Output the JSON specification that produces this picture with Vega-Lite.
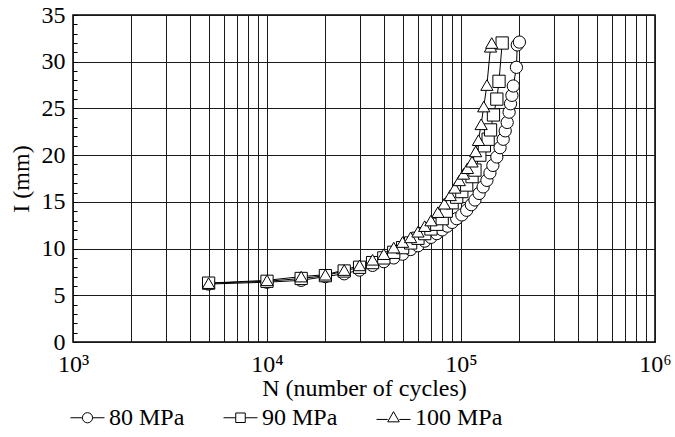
{
  "$schema": "https://vega.github.io/schema/vega-lite/v6.json",
  "width": 582,
  "height": 327,
  "autosize": {"type": "none"},
  "padding": {"left": 73, "top": 15, "right": 20, "bottom": 95},
  "background": "white",
  "config": {
    "font": "Liberation Serif",
    "axis": {"labelFont": "Liberation Serif", "titleFont": "Liberation Serif"},
    "legend": {"labelFont": "Liberation Serif"},
    "view": {"stroke": "black", "strokeWidth": 1.5}
  },
  "data": {
    "values": [
      {"s": "80 MPa", "N": 5000, "I": 6.2},
      {"s": "80 MPa", "N": 10000, "I": 6.4},
      {"s": "80 MPa", "N": 15000, "I": 6.6},
      {"s": "80 MPa", "N": 20000, "I": 7.0},
      {"s": "80 MPa", "N": 25000, "I": 7.3},
      {"s": "80 MPa", "N": 30000, "I": 7.7},
      {"s": "80 MPa", "N": 35000, "I": 8.2},
      {"s": "80 MPa", "N": 40000, "I": 8.6},
      {"s": "80 MPa", "N": 45000, "I": 9.0},
      {"s": "80 MPa", "N": 50000, "I": 9.4},
      {"s": "80 MPa", "N": 55000, "I": 9.9},
      {"s": "80 MPa", "N": 60000, "I": 10.3},
      {"s": "80 MPa", "N": 65000, "I": 10.8},
      {"s": "80 MPa", "N": 70000, "I": 11.2},
      {"s": "80 MPa", "N": 75000, "I": 11.6},
      {"s": "80 MPa", "N": 80000, "I": 12.0},
      {"s": "80 MPa", "N": 85000, "I": 12.4},
      {"s": "80 MPa", "N": 90000, "I": 12.8},
      {"s": "80 MPa", "N": 95000, "I": 13.2},
      {"s": "80 MPa", "N": 101000, "I": 13.6},
      {"s": "80 MPa", "N": 107000, "I": 14.1},
      {"s": "80 MPa", "N": 113000, "I": 14.7},
      {"s": "80 MPa", "N": 118000, "I": 15.2},
      {"s": "80 MPa", "N": 124000, "I": 15.9},
      {"s": "80 MPa", "N": 130000, "I": 16.6},
      {"s": "80 MPa", "N": 136000, "I": 17.3},
      {"s": "80 MPa", "N": 141000, "I": 18.1},
      {"s": "80 MPa", "N": 146000, "I": 18.9},
      {"s": "80 MPa", "N": 153000, "I": 19.8},
      {"s": "80 MPa", "N": 159000, "I": 20.8},
      {"s": "80 MPa", "N": 165000, "I": 21.7},
      {"s": "80 MPa", "N": 169000, "I": 22.6},
      {"s": "80 MPa", "N": 173000, "I": 23.5},
      {"s": "80 MPa", "N": 177000, "I": 24.6},
      {"s": "80 MPa", "N": 180000, "I": 25.5},
      {"s": "80 MPa", "N": 183000, "I": 26.4},
      {"s": "80 MPa", "N": 186000, "I": 27.4},
      {"s": "80 MPa", "N": 193000, "I": 29.4},
      {"s": "80 MPa", "N": 195000, "I": 31.8},
      {"s": "80 MPa", "N": 200000, "I": 32.1},
      {"s": "90 MPa", "N": 5000, "I": 6.3},
      {"s": "90 MPa", "N": 10000, "I": 6.5},
      {"s": "90 MPa", "N": 15000, "I": 6.8},
      {"s": "90 MPa", "N": 20000, "I": 7.1},
      {"s": "90 MPa", "N": 25000, "I": 7.6},
      {"s": "90 MPa", "N": 30000, "I": 8.0},
      {"s": "90 MPa", "N": 35000, "I": 8.5},
      {"s": "90 MPa", "N": 40000, "I": 9.0},
      {"s": "90 MPa", "N": 45000, "I": 9.6},
      {"s": "90 MPa", "N": 50000, "I": 10.1},
      {"s": "90 MPa", "N": 55000, "I": 10.6},
      {"s": "90 MPa", "N": 60000, "I": 11.1},
      {"s": "90 MPa", "N": 65000, "I": 11.6},
      {"s": "90 MPa", "N": 70000, "I": 12.1},
      {"s": "90 MPa", "N": 75000, "I": 12.6},
      {"s": "90 MPa", "N": 80000, "I": 13.2},
      {"s": "90 MPa", "N": 84000, "I": 14.0},
      {"s": "90 MPa", "N": 90000, "I": 14.9},
      {"s": "90 MPa", "N": 95000, "I": 15.5},
      {"s": "90 MPa", "N": 101000, "I": 16.1},
      {"s": "90 MPa", "N": 107000, "I": 16.8},
      {"s": "90 MPa", "N": 114000, "I": 17.7},
      {"s": "90 MPa", "N": 118000, "I": 18.4},
      {"s": "90 MPa", "N": 125000, "I": 20.0},
      {"s": "90 MPa", "N": 132000, "I": 21.0},
      {"s": "90 MPa", "N": 138000, "I": 21.7},
      {"s": "90 MPa", "N": 142000, "I": 22.7},
      {"s": "90 MPa", "N": 147000, "I": 24.3},
      {"s": "90 MPa", "N": 153000, "I": 26.0},
      {"s": "90 MPa", "N": 157000, "I": 27.9},
      {"s": "90 MPa", "N": 163000, "I": 32.0},
      {"s": "100 MPa", "N": 5000, "I": 6.3},
      {"s": "100 MPa", "N": 10000, "I": 6.6},
      {"s": "100 MPa", "N": 15000, "I": 7.0},
      {"s": "100 MPa", "N": 20000, "I": 7.2},
      {"s": "100 MPa", "N": 25000, "I": 7.7},
      {"s": "100 MPa", "N": 30000, "I": 8.2},
      {"s": "100 MPa", "N": 35000, "I": 8.8},
      {"s": "100 MPa", "N": 40000, "I": 9.4},
      {"s": "100 MPa", "N": 45000, "I": 10.1},
      {"s": "100 MPa", "N": 50000, "I": 10.7},
      {"s": "100 MPa", "N": 55000, "I": 11.2},
      {"s": "100 MPa", "N": 60000, "I": 11.8},
      {"s": "100 MPa", "N": 65000, "I": 12.4},
      {"s": "100 MPa", "N": 70000, "I": 13.0},
      {"s": "100 MPa", "N": 76000, "I": 13.9},
      {"s": "100 MPa", "N": 82000, "I": 14.8},
      {"s": "100 MPa", "N": 88000, "I": 15.7},
      {"s": "100 MPa", "N": 93000, "I": 16.5},
      {"s": "100 MPa", "N": 98000, "I": 17.3},
      {"s": "100 MPa", "N": 103000, "I": 18.0},
      {"s": "100 MPa", "N": 108000, "I": 18.6},
      {"s": "100 MPa", "N": 114000, "I": 19.3},
      {"s": "100 MPa", "N": 119000, "I": 20.4},
      {"s": "100 MPa", "N": 123000, "I": 21.6},
      {"s": "100 MPa", "N": 127000, "I": 23.3},
      {"s": "100 MPa", "N": 131000, "I": 25.2},
      {"s": "100 MPa", "N": 136000, "I": 27.5},
      {"s": "100 MPa", "N": 142000, "I": 31.6},
      {"s": "100 MPa", "N": 144000, "I": 32.0}
    ]
  },
  "encoding": {
    "x": {
      "field": "N",
      "type": "quantitative",
      "scale": {"type": "log", "domain": [1000, 1000000], "nice": false},
      "axis": {
        "title": "N (number of cycles)",
        "values": [1000, 2000, 3000, 4000, 5000, 6000, 7000, 8000, 9000, 10000, 20000, 30000, 40000, 50000, 60000, 70000, 80000, 90000, 100000, 200000, 300000, 400000, 500000, 600000, 700000, 800000, 900000, 1000000],
        "labelExpr": "datum.value == 1000 ? '10³' : datum.value == 10000 ? '10⁴' : datum.value == 100000 ? '10⁵' : datum.value == 1000000 ? '10⁶' : ''",
        "labelFontSize": 24,
        "labelColor": "black",
        "labelPadding": 10,
        "labelFlush": false,
        "labelOverlap": false,
        "ticks": false,
        "domain": false,
        "grid": true,
        "gridColor": "#1a1a1a",
        "gridWidth": 1,
        "gridOpacity": 1,
        "titleFontSize": 24,
        "titleFontWeight": "normal",
        "titleColor": "black",
        "titlePadding": 0
      }
    },
    "y": {
      "field": "I",
      "type": "quantitative",
      "scale": {"domain": [0, 35], "nice": false},
      "axis": {
        "title": "I (mm)",
        "values": [0, 1, 2, 3, 4, 5, 6, 7, 8, 9, 10, 11, 12, 13, 14, 15, 16, 17, 18, 19, 20, 21, 22, 23, 24, 25, 26, 27, 28, 29, 30, 31, 32, 33, 34, 35],
        "labelExpr": "datum.value % 5 === 0 ? datum.label : ''",
        "labelFontSize": 24,
        "labelColor": "black",
        "labelFlush": false,
        "labelOverlap": false,
        "labelPadding": 12,
        "tickSize": -4,
        "tickColor": "black",
        "domain": false,
        "grid": true,
        "gridColor": "#1a1a1a",
        "gridWidth": 1,
        "gridOpacity": {"condition": {"test": "datum.value % 5 === 0", "value": 1}, "value": 0},
        "titleFontSize": 24,
        "titleFontWeight": "normal",
        "titleColor": "black",
        "titlePadding": 8
      }
    }
  },
  "layer": [
    {
      "mark": {"type": "line", "color": "black", "strokeWidth": 1},
      "encoding": {"detail": {"field": "s"}, "order": {"field": "N", "type": "quantitative"}}
    },
    {
      "mark": {"type": "point", "filled": false, "fill": "white", "fillOpacity": 1, "stroke": "black", "strokeWidth": 1, "size": 150, "opacity": 1},
      "encoding": {
        "shape": {
          "field": "s",
          "type": "nominal",
          "scale": {"domain": ["80 MPa", "90 MPa", "100 MPa"], "range": ["circle", "square", "triangle-up"]},
          "legend": null
        }
      }
    },
    {
      "mark": {"type": "point", "filled": false, "stroke": "black", "strokeWidth": 1, "opacity": 0},
      "encoding": {
        "shape": {
          "field": "s",
          "type": "nominal",
          "scale": {"domain": ["80 MPa", "90 MPa", "100 MPa"], "range": [
            "M-1,0H-0.3M0.3,0H1M0.3,0A0.3,0.3,0,1,1,-0.3,0A0.3,0.3,0,1,1,0.3,0",
            "M-1,0H-0.28M0.28,0H1M-0.28,-0.28H0.28V0.28H-0.28Z",
            "M-1,0.1H-0.34M0.34,0.1H1M0,-0.36L0.34,0.24H-0.34Z"
          ]},
          "legend": {
            "title": null,
            "orient": "none",
            "direction": "horizontal",
            "legendX": -3,
            "legendY": 385,
            "symbolSize": 1156,
            "symbolStrokeColor": "black",
            "symbolFillColor": "white",
            "symbolStrokeWidth": 1,
            "symbolOpacity": 1,
            "labelFont": "Liberation Serif",
            "labelFontSize": 24,
            "labelColor": "black",
            "labelOffset": 4,
            "columnPadding": 36,
            "padding": 0
          }
        }
      }
    }
  ],
  "resolve": {"scale": {"shape": "independent"}, "legend": {"shape": "independent"}}
}
